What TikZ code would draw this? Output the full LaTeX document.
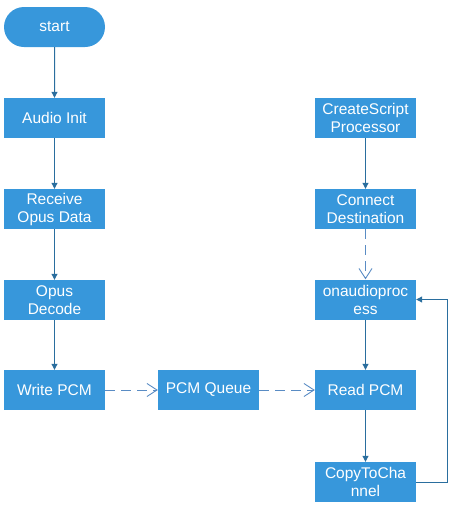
\documentclass[tikz,border=0pt]{standalone}
\usepackage{fontspec}
\setmainfont{Liberation Sans}
\usetikzlibrary{arrows.meta,shapes.misc}
\definecolor{boxfill}{HTML}{3797DB}
\definecolor{solidline}{HTML}{2A6E9E}
\definecolor{dashline}{HTML}{5A8CC4}
\begin{document}
\begin{tikzpicture}[x=1pt,y=-1pt,
  box/.style={draw=none,fill=boxfill,text=white,minimum width=101pt,minimum height=40pt,
    inner sep=0pt,align=center,font=\fontsize{15.5}{18}\selectfont},
  pill/.style={box,rounded rectangle},
  solid arrow/.style={draw=solidline,line width=1pt,-{Triangle[width=6pt,length=6pt]}},
  dash arrow/.style={draw=dashline,line width=0.9pt,dash pattern=on 10pt off 6pt,
    -{Straight Barb[length=10pt,width=13pt,line width=0.9pt]}}]
\useasboundingbox (0,0) rectangle (459,507);
\node[pill] (start) at (54.5,27) {start};
\node[box] (init) at (54.5,118) {Audio Init};
\node[box] (recv) at (54.5,209) {Receive\\Opus Data};
\node[box] (dec) at (54.5,300) {Opus\\Decode};
\node[box] (write) at (54.5,390) {Write PCM};
\node[box] (queue) at (208.5,390) {PCM Queue};
\node[box] (csp) at (365.5,118) {CreateScript\\Processor};
\node[box] (conn) at (365.5,209) {Connect\\Destination};
\node[box] (onap) at (365.5,299.5) {onaudioproc\\ess};
\node[box] (read) at (365.5,390) {Read PCM};
\node[box] (copy) at (365.5,482) {CopyToCha\\nnel};
\draw[solid arrow] (start) -- (init);
\draw[solid arrow] (init) -- (recv);
\draw[solid arrow] (recv) -- (dec);
\draw[solid arrow] (dec) -- (write);
\draw[solid arrow] (csp) -- (conn);
\draw[dash arrow] (conn) -- (onap);
\draw[solid arrow] (onap) -- (read);
\draw[solid arrow] (read) -- (copy);
\draw[dash arrow] (write) -- (queue);
\draw[dash arrow] (queue) -- (read);
\coordinate (loopb) at (447,482);
\coordinate (loopt) at (447,299.5);
\draw[solid arrow] (copy.east) -- (loopb) -- (loopt) -- (onap.east);
\end{tikzpicture}
\end{document}
